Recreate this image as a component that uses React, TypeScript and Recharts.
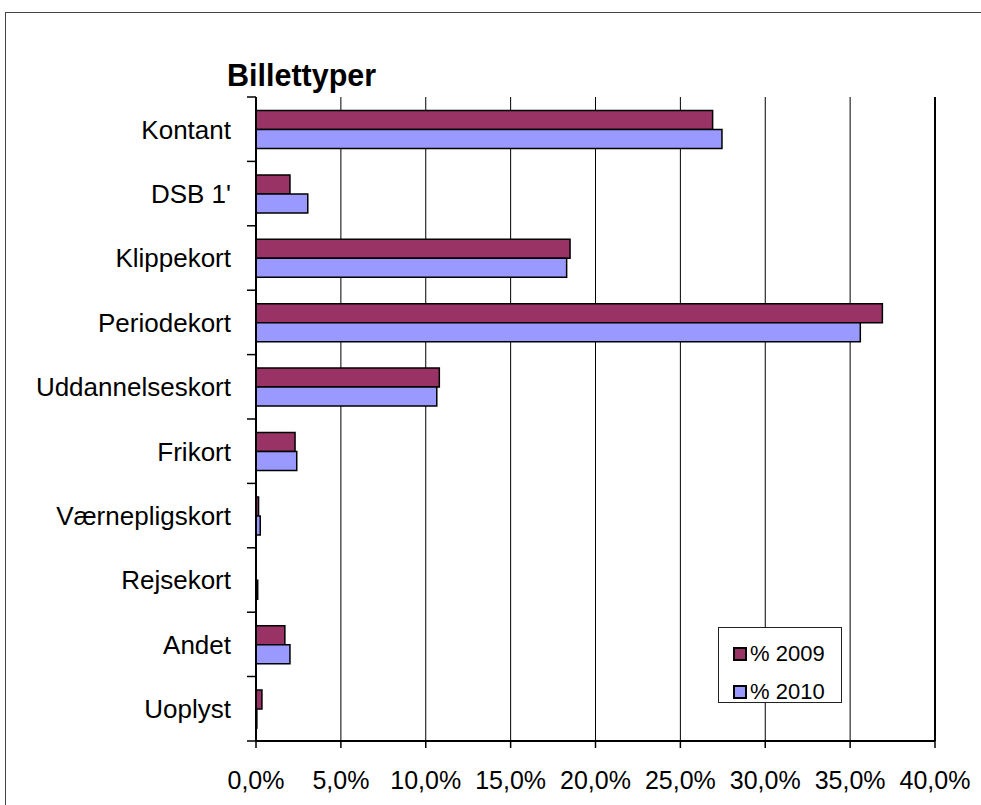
import {
  Bar,
  BarChart,
  CartesianGrid,
  Legend,
  ReferenceLine,
  XAxis,
  YAxis,
} from "recharts";

const categories = [
  "Kontant",
  "DSB 1'",
  "Klippekort",
  "Periodekort",
  "Uddannelseskort",
  "Frikort",
  "Værnepligskort",
  "Rejsekort",
  "Andet",
  "Uoplyst",
];
const pct2009 = [26.9, 2.0, 18.5, 36.9, 10.8, 2.3, 0.15, 0.0, 1.7, 0.35];
const pct2010 = [27.45, 3.05, 18.3, 35.6, 10.65, 2.4, 0.25, 0.1, 2.0, 0.05];
const xTicks = [0, 5, 10, 15, 20, 25, 30, 35, 40];

const data = categories.map((name, i) => ({
  name,
  p2009: pct2009[i],
  p2010: pct2010[i],
}));

const font = "'Liberation Sans', Arial, sans-serif";

// plot height / number of categories, used for the boundary tick marks
const CHART_H = 805;
const PLOT_TOP = 97;
const XAXIS_H = 64;

function CategoryTick(props: any) {
  const { x, y, payload, index } = props;
  const off = Number(payload?.offset);
  const half =
    Number.isFinite(off) && off > 1
      ? off
      : (CHART_H - PLOT_TOP - XAXIS_H) / categories.length / 2;
  // tick label sits tickSize(6) + tickMargin(19) left of the axis
  const axisX = x + 25;
  return (
    <g>
      <path
        d={`M${axisX - 9},${y - half}H${axisX}` + (index === categories.length - 1 ? `M${axisX - 9},${y + half}H${axisX}` : "")}
        stroke="#000"
        strokeWidth={1.5}
        fill="none"
      />
      <text x={x} y={y} dy="0.36em" textAnchor="end" fontSize={26} fill="#000" fontFamily={font}>
        {payload.value}
      </text>
    </g>
  );
}

function LegendBox(props: any) {
  const items = props.payload || [];
  return (
    <div
      style={{
        width: 124,
        height: 76,
        boxSizing: "border-box",
        border: "1px solid #222",
        background: "#fff",
        fontFamily: font,
        fontSize: 22,
        lineHeight: "24px",
        paddingTop: 7,
        paddingLeft: 14,
        textAlign: "left",
      }}
    >
      {items.map((it: any) => (
        <div key={it.value} style={{ display: "flex", alignItems: "center", height: 38 }}>
          <span
            style={{
              display: "inline-block",
              width: 10,
              height: 10,
              background: it.color,
              border: "2px solid #000",
              marginRight: 3,
            }}
          />
          <span style={{ color: "#000", fontSize: 22 }}>{it.value}</span>
        </div>
      ))}
    </div>
  );
}

export default function App() {
  return (
    <div
      style={{
        position: "absolute",
        left: 0,
        top: 0,
        width: 981,
        height: 805,
        overflow: "hidden",
        background: "#fff",
      }}
    >
      <div
        style={{
          position: "absolute",
          left: 5,
          top: 12,
          width: 1100,
          height: 1000,
          border: "1px solid #444",
        }}
      />
      <div
        style={{
          position: "absolute",
          left: 227,
          top: 58,
          fontFamily: font,
          fontWeight: "bold",
          fontSize: 30.5,
          lineHeight: "34px",
          color: "#000",
        }}
      >
        Billettyper
      </div>
      <BarChart
        width={981}
        height={CHART_H}
        data={data}
        layout="vertical"
        margin={{ top: PLOT_TOP, right: 46, bottom: 0, left: 0 }}
        barCategoryGap="21%"
        barGap={0}
        style={{ fontFamily: font, position: "absolute", left: 0, top: 0 }}
      >
        <CartesianGrid horizontal={false} stroke="#000" strokeWidth={1} />
        <XAxis
          type="number"
          domain={[0, 40]}
          ticks={xTicks}
          interval={0}
          tickFormatter={(v: number) => v.toFixed(1).replace(".", ",") + "%"}
          tick={{ fontSize: 25, fill: "#000" }}
          tickSize={7}
          tickMargin={23}
          height={XAXIS_H}
          axisLine={{ stroke: "#000", strokeWidth: 2 }}
          tickLine={{ stroke: "#000", strokeWidth: 1.5 }}
        />
        <XAxis
          xAxisId="top"
          orientation="top"
          type="number"
          domain={[0, 40]}
          height={0}
          tick={false}
          tickLine={false}
          axisLine={{ stroke: "#000", strokeWidth: 2 }}
        />
        <YAxis
          type="category"
          dataKey="name"
          width={256}
          interval={0}
          tickLine={false}
          tickSize={6}
          tickMargin={19}
          axisLine={{ stroke: "#000", strokeWidth: 2 }}
          tick={<CategoryTick />}
        />
        <ReferenceLine x={40} stroke="#000" strokeWidth={2} />
        <Legend
          layout="vertical"
          align="center"
          verticalAlign="middle"
          content={<LegendBox />}
          wrapperStyle={{ left: 718, top: 627, width: 124, height: 76 }}
        />
        <Bar
          dataKey="p2009"
          name="% 2009"
          fill="#993366"
          stroke="#000"
          strokeWidth={1.5}
          isAnimationActive={false}
        />
        <Bar
          dataKey="p2010"
          name="% 2010"
          fill="#9999FF"
          stroke="#000"
          strokeWidth={1.5}
          isAnimationActive={false}
        />
      </BarChart>
    </div>
  );
}
